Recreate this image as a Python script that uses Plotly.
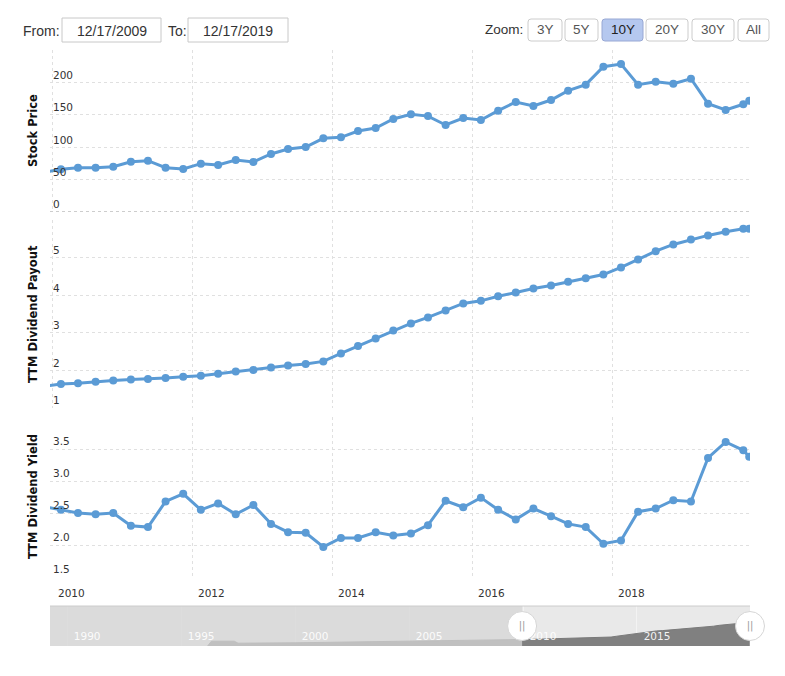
import plotly.graph_objects as go

# ---------------- data ----------------
dates = [
    "2009-11-12",
    "2010-02-12", "2010-05-12", "2010-08-12", "2010-11-12",
    "2011-02-12", "2011-05-12", "2011-08-12", "2011-11-12",
    "2012-02-12", "2012-05-12", "2012-08-12", "2012-11-12",
    "2013-02-12", "2013-05-12", "2013-08-12", "2013-11-12",
    "2014-02-12", "2014-05-12", "2014-08-12", "2014-11-12",
    "2015-02-12", "2015-05-12", "2015-08-12", "2015-11-12",
    "2016-02-12", "2016-05-12", "2016-08-12", "2016-11-12",
    "2017-02-12", "2017-05-12", "2017-08-12", "2017-11-12",
    "2018-02-12", "2018-05-12", "2018-08-12", "2018-11-12",
    "2019-02-12", "2019-05-12", "2019-08-12", "2019-11-12",
    "2019-12-13",
]
stock_price = [
    61.2,
    65.9, 68.4, 68.4, 69.9, 77.6, 79.2, 68.4, 66.4, 74.6, 72.5,
    80.2, 77.2, 89.5, 97.2, 100.3, 113.7, 115.2, 125.0, 129.6, 143.5,
    150.7, 148.0, 134.3, 145.0, 142.0, 156.4, 169.8, 163.6, 172.8, 187.2,
    196.5, 224.3, 228.4, 196.5, 201.0, 198.0, 205.7, 167.1, 157.4, 166.2,
    171.8,
]
dividend_payout = [
    1.57,
    1.64, 1.66, 1.70, 1.73, 1.755, 1.77, 1.80, 1.83, 1.86, 1.91,
    1.97, 2.01, 2.08, 2.13, 2.17, 2.24, 2.45, 2.65, 2.85, 3.06,
    3.25, 3.41, 3.59, 3.78, 3.85, 3.97, 4.07, 4.18, 4.26, 4.36,
    4.45, 4.55, 4.74, 4.95, 5.17, 5.35, 5.48, 5.59, 5.69, 5.77,
    5.77,
]
dividend_yield = [
    2.60,
    2.55, 2.50, 2.48, 2.50, 2.30, 2.28, 2.68, 2.80, 2.55, 2.65,
    2.48, 2.625, 2.33, 2.20, 2.19, 1.97, 2.11, 2.11, 2.20, 2.15,
    2.18, 2.31, 2.69, 2.59, 2.74, 2.55, 2.40, 2.57, 2.45, 2.33,
    2.28, 2.02, 2.07, 2.52, 2.57, 2.70, 2.68, 3.36, 3.61, 3.48,
    3.38,
]
# navigator history (dividend payout before the quarterly series)
nav_hist_dates = ["1996-03-01", "1996-05-01", "1997-05-01", "1997-07-01",
                  "2000-01-01", "2003-01-01", "2006-01-01", "2009-06-01"]
nav_hist_values = [0.0, 1.2, 1.2, 0.7, 0.8, 1.0, 1.2, 1.5]

range_start, range_end = "2009-12-17", "2019-12-17"
nav_start = "1989-04-01"

x_tickvals = ["2010-01-01", "2012-01-01", "2014-01-01", "2016-01-01", "2018-01-01"]
x_ticktext = ["2010", "2012", "2014", "2016", "2018"]
nav_tickvals = ["1990-01-01", "1995-01-01", "2000-01-01", "2005-01-01", "2010-01-01", "2015-01-01"]
nav_ticktext = ["1990", "1995", "2000", "2005", "2010", "2015"]
y1_ticks = [0, 50, 100, 150, 200, 250]
y1_text = ["0", "50", "100", "150", "200", ""]
y2_ticks = [1, 2, 3, 4, 5, 6]
y2_text = ["1", "2", "3", "4", "5", ""]
y3_ticks = [1.5, 2.0, 2.5, 3.0, 3.5, 4.0]
y3_text = ["1.5", "2.0", "2.5", "3.0", "3.5", ""]
zoom_buttons = ["3Y", "5Y", "10Y", "20Y", "30Y", "All"]
selected_button = "10Y"

# ---------------- style / layout ----------------
LINE = "#5b9bd5"
GRID = "#e0e0e0"
TICKFONT = dict(family="DejaVu Sans", size=10.5, color="#333333")
L, T, W, H = 50, 50, 700, 596
FIG_W, FIG_H = 785, 676
NAV_MAX = 10
NAV_LABEL_Y = 2.1
NBSP2 = "\u00a0\u00a0"


def px(x):
    return (x - L) / W


def py(y):
    return (T + H - y) / H


fig = go.Figure()
common = dict(mode="lines+markers", line=dict(color=LINE, width=3),
              marker=dict(size=8, color=LINE), hoverinfo="skip", showlegend=False)
fig.add_trace(go.Scatter(x=dates, y=stock_price, xaxis="x", yaxis="y", **common))
fig.add_trace(go.Scatter(x=dates, y=dividend_payout, xaxis="x", yaxis="y2", **common))
fig.add_trace(go.Scatter(x=dates, y=dividend_yield, xaxis="x", yaxis="y3", **common))

# navigator area
nav_dates = nav_hist_dates + dates
nav_values = nav_hist_values + dividend_payout
fig.add_trace(go.Scatter(x=nav_dates, y=nav_values, xaxis="x2", yaxis="y4",
                         mode="lines", fill="tozeroy", fillcolor="#808080",
                         line=dict(color="#7a7a7a", width=1), hoverinfo="skip",
                         showlegend=False))
# navigator mask over the unselected part
fig.add_trace(go.Scatter(x=[nav_start, range_start, range_start, nav_start, nav_start],
                         y=[0, 0, NAV_MAX, NAV_MAX, 0], xaxis="x2", yaxis="y4",
                         mode="none", fill="toself", fillcolor="rgba(214,214,214,0.75)",
                         hoverinfo="skip", showlegend=False))
# navigator year labels (as text trace so the handles can cover them)
fig.add_trace(go.Scatter(x=nav_tickvals, y=[NAV_LABEL_Y] * len(nav_tickvals),
                         xaxis="x2", yaxis="y4", mode="text",
                         text=[NBSP2 + t for t in nav_ticktext],
                         textposition="middle right",
                         textfont=dict(family="DejaVu Sans", size=10.5,
                                       color="rgba(255,255,255,0.92)"),
                         cliponaxis=False, hoverinfo="skip", showlegend=False))
# navigator handles
fig.add_trace(go.Scatter(x=[range_start, range_end], y=[NAV_MAX / 2] * 2, xaxis="x2", yaxis="y4",
                         mode="markers+text", text=["||", "||"], textposition="middle center",
                         textfont=dict(family="DejaVu Sans", size=10, color="#9a9a9a"),
                         marker=dict(size=29, color="white", line=dict(color="#d6d6d6", width=1)),
                         cliponaxis=False, hoverinfo="skip", showlegend=False))

grid_common = dict(showgrid=True, gridcolor=GRID, griddash="3px,3px", gridwidth=1,
                   zeroline=False, showline=False, ticks="", tickfont=TICKFONT)

shapes = []
annotations = []

# x-axis year labels, left-aligned just right of their grid line
for v, t in zip(x_tickvals, x_ticktext):
    annotations.append(dict(text=t, x=v, xref="x", y=py(593), yref="paper",
                            xanchor="left", yanchor="middle", xshift=3.5,
                            showarrow=False, font=TICKFONT))

# navigator background + top border
shapes.append(dict(type="rect", xref="x2 domain", yref="y4 domain", x0=0, x1=1, y0=0, y1=1,
                   fillcolor="#e9e9e9", line=dict(width=0), layer="below"))
shapes.append(dict(type="line", xref="x2 domain", yref="y4 domain", x0=0, x1=1, y0=1, y1=1,
                   line=dict(color="#cccccc", width=1)))
# darker dashed line at zero of top panel
shapes.append(dict(type="line", xref="x domain", yref="y", x0=0, x1=1, y0=0, y1=0,
                   line=dict(color="#9a9a9a", width=1, dash="3px,3px")))

UIFONT = dict(family="Liberation Sans", size=14, color="#333333")
# From / To inputs
annotations.append(dict(text="From:", x=px(21), y=py(31), xref="paper", yref="paper",
                        xanchor="left", yanchor="middle", showarrow=False, font=UIFONT))
annotations.append(dict(text="To:", x=px(166), y=py(31), xref="paper", yref="paper",
                        xanchor="left", yanchor="middle", showarrow=False, font=UIFONT))
for (x0, x1, label) in [(62, 161, "12/17/2009"), (188, 288, "12/17/2019")]:
    shapes.append(dict(type="rect", xref="paper", yref="paper", x0=px(x0), x1=px(x1),
                       y0=py(42), y1=py(18), fillcolor="white",
                       line=dict(color="#c8c8c8", width=1)))
    annotations.append(dict(text=label, x=px((x0 + x1) / 2), y=py(31), xref="paper",
                            yref="paper", xanchor="center", yanchor="middle",
                            showarrow=False, font=UIFONT))

# Zoom buttons
annotations.append(dict(text="Zoom:", x=px(483), y=py(30), xref="paper", yref="paper",
                        xanchor="left", yanchor="middle", showarrow=False,
                        font=dict(family="Liberation Sans", size=13.5, color="#333333")))
btn_x = [(528, 562), (565, 598), (602, 643), (646, 688), (692, 734), (738, 769)]


def rounded(x0, x1, y0, y1, r=3):
    rx, ry = r / W, r / H
    X0, X1, Y0, Y1 = px(x0), px(x1), py(y1), py(y0)
    return (f"M {X0+rx},{Y0} L {X1-rx},{Y0} Q {X1},{Y0} {X1},{Y0+ry} "
            f"L {X1},{Y1-ry} Q {X1},{Y1} {X1-rx},{Y1} L {X0+rx},{Y1} "
            f"Q {X0},{Y1} {X0},{Y1-ry} L {X0},{Y0+ry} Q {X0},{Y0} {X0+rx},{Y0} Z")


for (x0, x1), label in zip(btn_x, zoom_buttons):
    sel = label == selected_button
    shapes.append(dict(type="path", xref="paper", yref="paper",
                       path=rounded(x0, x1, 19, 41),
                       fillcolor="#b5c8ef" if sel else "white",
                       line=dict(color="#98a8d4" if sel else "#cccccc", width=1)))
    annotations.append(dict(text=label, x=px((x0 + x1) / 2), y=py(30), xref="paper",
                            yref="paper", xanchor="center", yanchor="middle", showarrow=False,
                            font=dict(family="Liberation Sans", size=13.5,
                                      color="#222222" if sel else "#555555")))

# Y axis titles
TITLEFONT = dict(family="DejaVu Sans", size=11.5, color="#111111", weight="bold")
for title, yc in [("Stock Price", 131), ("TTM Dividend Payout", 314), ("TTM Dividend Yield", 497)]:
    annotations.append(dict(text=title, x=px(33), y=py(yc), xref="paper", yref="paper",
                            xanchor="center", yanchor="middle", textangle=-90,
                            showarrow=False, font=TITLEFONT))

fig.update_layout(
    width=FIG_W, height=FIG_H,
    margin=dict(l=L, r=FIG_W - L - W, t=T, b=FIG_H - T - H, autoexpand=False),
    paper_bgcolor="white", plot_bgcolor="white",
    showlegend=False,
    xaxis=dict(type="date", range=[range_start, range_end], domain=[0, 1], anchor="y3",
               tickmode="array", tickvals=x_tickvals, showticklabels=False,
               **grid_common),
    yaxis=dict(domain=[py(212), py(50)], range=[0, 250], anchor="x",
               tickvals=y1_ticks, ticktext=y1_text, ticklabelposition="inside top",
               **grid_common),
    yaxis2=dict(domain=[py(408), py(220)], range=[1, 6], anchor="x",
                tickvals=y2_ticks, ticktext=y2_text, ticklabelposition="inside top",
                **grid_common),
    yaxis3=dict(domain=[py(577), py(417)], range=[1.5, 4.0], anchor="x",
                tickvals=y3_ticks, ticktext=y3_text, ticklabelposition="inside top",
                **grid_common),
    xaxis2=dict(type="date", range=[nav_start, range_end], domain=[0, 1], anchor="y4",
                tickmode="array", tickvals=nav_tickvals, showticklabels=False,
                showgrid=True, gridcolor="rgba(255,255,255,0.45)", gridwidth=1,
                zeroline=False, showline=False, ticks=""),
    yaxis4=dict(domain=[0, py(606)], range=[0, NAV_MAX], anchor="x2",
                showgrid=False, showticklabels=False, zeroline=False, showline=False),
    shapes=shapes,
    annotations=annotations,
)

fig.write_html("out.html")
